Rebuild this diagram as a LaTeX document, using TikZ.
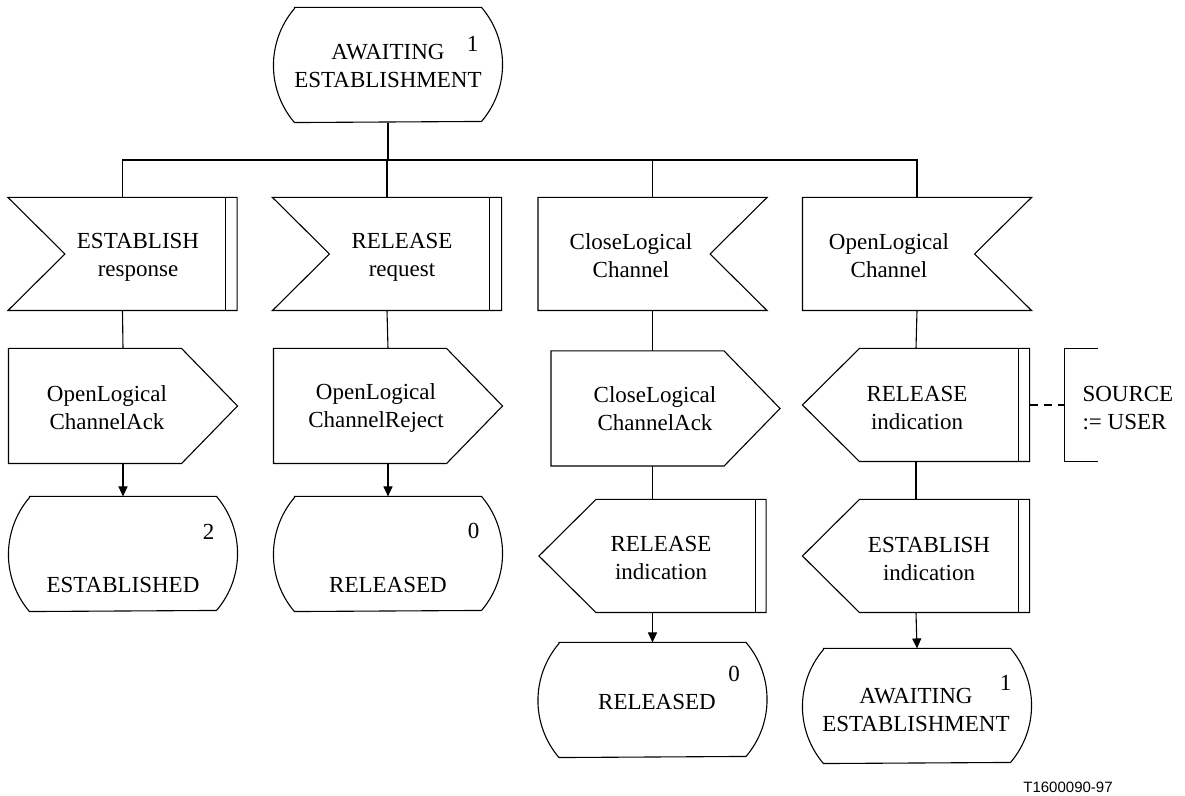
\documentclass[tikz,border=0pt]{standalone}
\usepackage{fontspec}
\setmainfont{Liberation Serif}
\newfontfamily\tagfont{Liberation Sans}
\usetikzlibrary{arrows.meta}

\begin{document}
\begin{tikzpicture}[x=0.5pt, y=-0.5pt, line width=0.55pt,
    every node/.style={inner sep=0pt, font=\fontsize{11.5}{14}\selectfont},
    txt/.style={align=center},
    statebox/.style={minimum width=114pt, minimum height=57pt},
    inbox/.style={minimum width=114pt, minimum height=56pt},
    outbox/.style={minimum width=114pt, minimum height=57pt},
    sendbox/.style={minimum width=113pt, minimum height=56pt},
    flow/.style={-{Triangle[length=5pt,width=4.5pt]}}]
    \useasboundingbox (0,0) rectangle (1185,796);

    % States
    \node[statebox] (s0) at (388,65) {};
    \node[statebox] (st1) at (123,554) {};
    \node[statebox] (st2) at (388,554) {};
    \node[statebox] (st3) at (652.5,700) {};
    \node[statebox] (st4) at (917,706) {};
    \foreach \n in {s0,st1,st2,st3,st4} {
        \draw ([xshift=10.5pt]\n.north west) -- ([xshift=-10.5pt]\n.north east)
            arc[start angle=40.45, end angle=-40.45, radius=43.93pt]
            -- ([xshift=10.5pt]\n.south west)
            arc[start angle=220.45, end angle=139.55, radius=43.93pt] -- cycle;
    }
    \node[txt] (s0t) at (388,66) {AWAITING\\ESTABLISHMENT};
    \node (s0n) at ([xshift=-15pt,yshift=-18pt]s0.north east) {1};
    \node (st1t) at (123,585) {ESTABLISHED};
    \node (st1n) at ([xshift=-14.5pt,yshift=-17.5pt]st1.north east) {2};
    \node (st2t) at (388,585) {RELEASED};
    \node (st2n) at ([xshift=-14.5pt,yshift=-17.5pt]st2.north east) {0};
    \node (st3t) at (657,702) {RELEASED};
    \node (st3n) at ([xshift=-16.5pt,yshift=-16pt]st3.north east) {0};
    \node[txt] (st4t) at (916,710) {AWAITING\\ESTABLISHMENT};
    \node (st4n) at ([xshift=-13pt,yshift=-17pt]st4.north east) {1};

    % Inputs
    \node[inbox] (in1) at (122.5,254) {};
    \node[inbox] (in2) at (387,254) {};
    \node[inbox] (in3) at (652.5,254) {};
    \node[inbox] (in4) at (917,254) {};
    \foreach \n in {in1,in2} {
        \draw (\n.north west) -- (\n.north east) -- (\n.south east) -- (\n.south west)
            -- ([xshift=28.5pt]\n.west) -- cycle;
        \draw ([xshift=-6pt]\n.north east) -- ([xshift=-6pt]\n.south east);
    }
    \foreach \n in {in3,in4}
        \draw (\n.north west) -- (\n.north east) -- ([xshift=-28.5pt]\n.east)
            -- (\n.south east) -- (\n.south west) -- cycle;
    \node[txt] (in1t) at (138,257) {ESTABLISH\\response};
    \node[txt] (in2t) at (402,257) {RELEASE\\request};
    \node[txt] (in3t) at (631,256) {CloseLogical\\Channel};
    \node[txt] (in4t) at (889,256) {OpenLogical\\Channel};

    % Outputs
    \node[outbox] (out1) at (123,406) {};
    \node[outbox] (out2) at (388,406) {};
    \node[outbox] (out3) at (665.5,408.5) {};
    \foreach \n in {out1,out2,out3}
        \draw (\n.north west) -- ([xshift=-28pt]\n.north east) -- (\n.east)
            -- ([xshift=-28pt]\n.south east) -- (\n.south west) -- cycle;
    \node[sendbox] (out4) at (916,405) {};
    \node[sendbox] (out5) at (652.5,556) {};
    \node[sendbox] (out6) at (916,556) {};
    \foreach \n in {out4,out5,out6} {
        \draw (\n.west) -- ([xshift=28.5pt]\n.north west) -- (\n.north east)
            -- (\n.south east) -- ([xshift=28.5pt]\n.south west) -- cycle;
        \draw ([xshift=-5.5pt]\n.north east) -- ([xshift=-5.5pt]\n.south east);
    }
    \node[txt] (out1t) at (107,408) {OpenLogical\\ChannelAck};
    \node[txt] (out2t) at (376,408) {OpenLogical\\ChannelReject};
    \node[txt] (out3t) at (655,409) {CloseLogical\\ChannelAck};
    \node[txt] (out4t) at (917,408) {RELEASE\\indication};
    \node[txt] (out5t) at (661,558) {RELEASE\\indication};
    \node[txt] (out6t) at (929,559) {ESTABLISH\\indication};

    % Comment
    \node[minimum width=16pt, minimum height=56pt] (src) at (1081,405) {};
    \draw (src.north east) -- (src.north west) -- (src.south west) -- (src.south east);
    \node[align=left, anchor=west] (srct) at (1082,408) {SOURCE\\:= USER};
    \draw[dashed, dash pattern=on 4pt off 3pt] (out4.east) -- (src.west);

    % Connections
    \coordinate (bus) at (0,160);
    \draw (s0.south) -- (s0.south |- bus);
    \draw (in1.north) |- (in4.north |- bus) -- (in4.north);
    \foreach \n in {in2,in3}
        \draw (\n.north |- bus) -- (\n.north);
    \draw (in1.south) -- (out1.north);
    \draw (in2.south) -- (out2.north);
    \draw (in3.south) -- (in3.south |- out3.north);
    \draw (out5.north |- out3.south) -- (out5.north);
    \draw (in4.south) -- (out4.north);
    \draw (out4.south) -- (out6.north);
    \draw[flow] (out1.south) -- (st1.north);
    \draw[flow] (out2.south) -- (st2.north);
    \draw[flow] (out5.south) -- (st3.north);
    \draw[flow] (out6.south) -- (st4.north);

    \node[font=\tagfont\fontsize{7.5}{9}\selectfont] (tag) at (1068,787) {T1600090-97};
\end{tikzpicture}
\end{document}
